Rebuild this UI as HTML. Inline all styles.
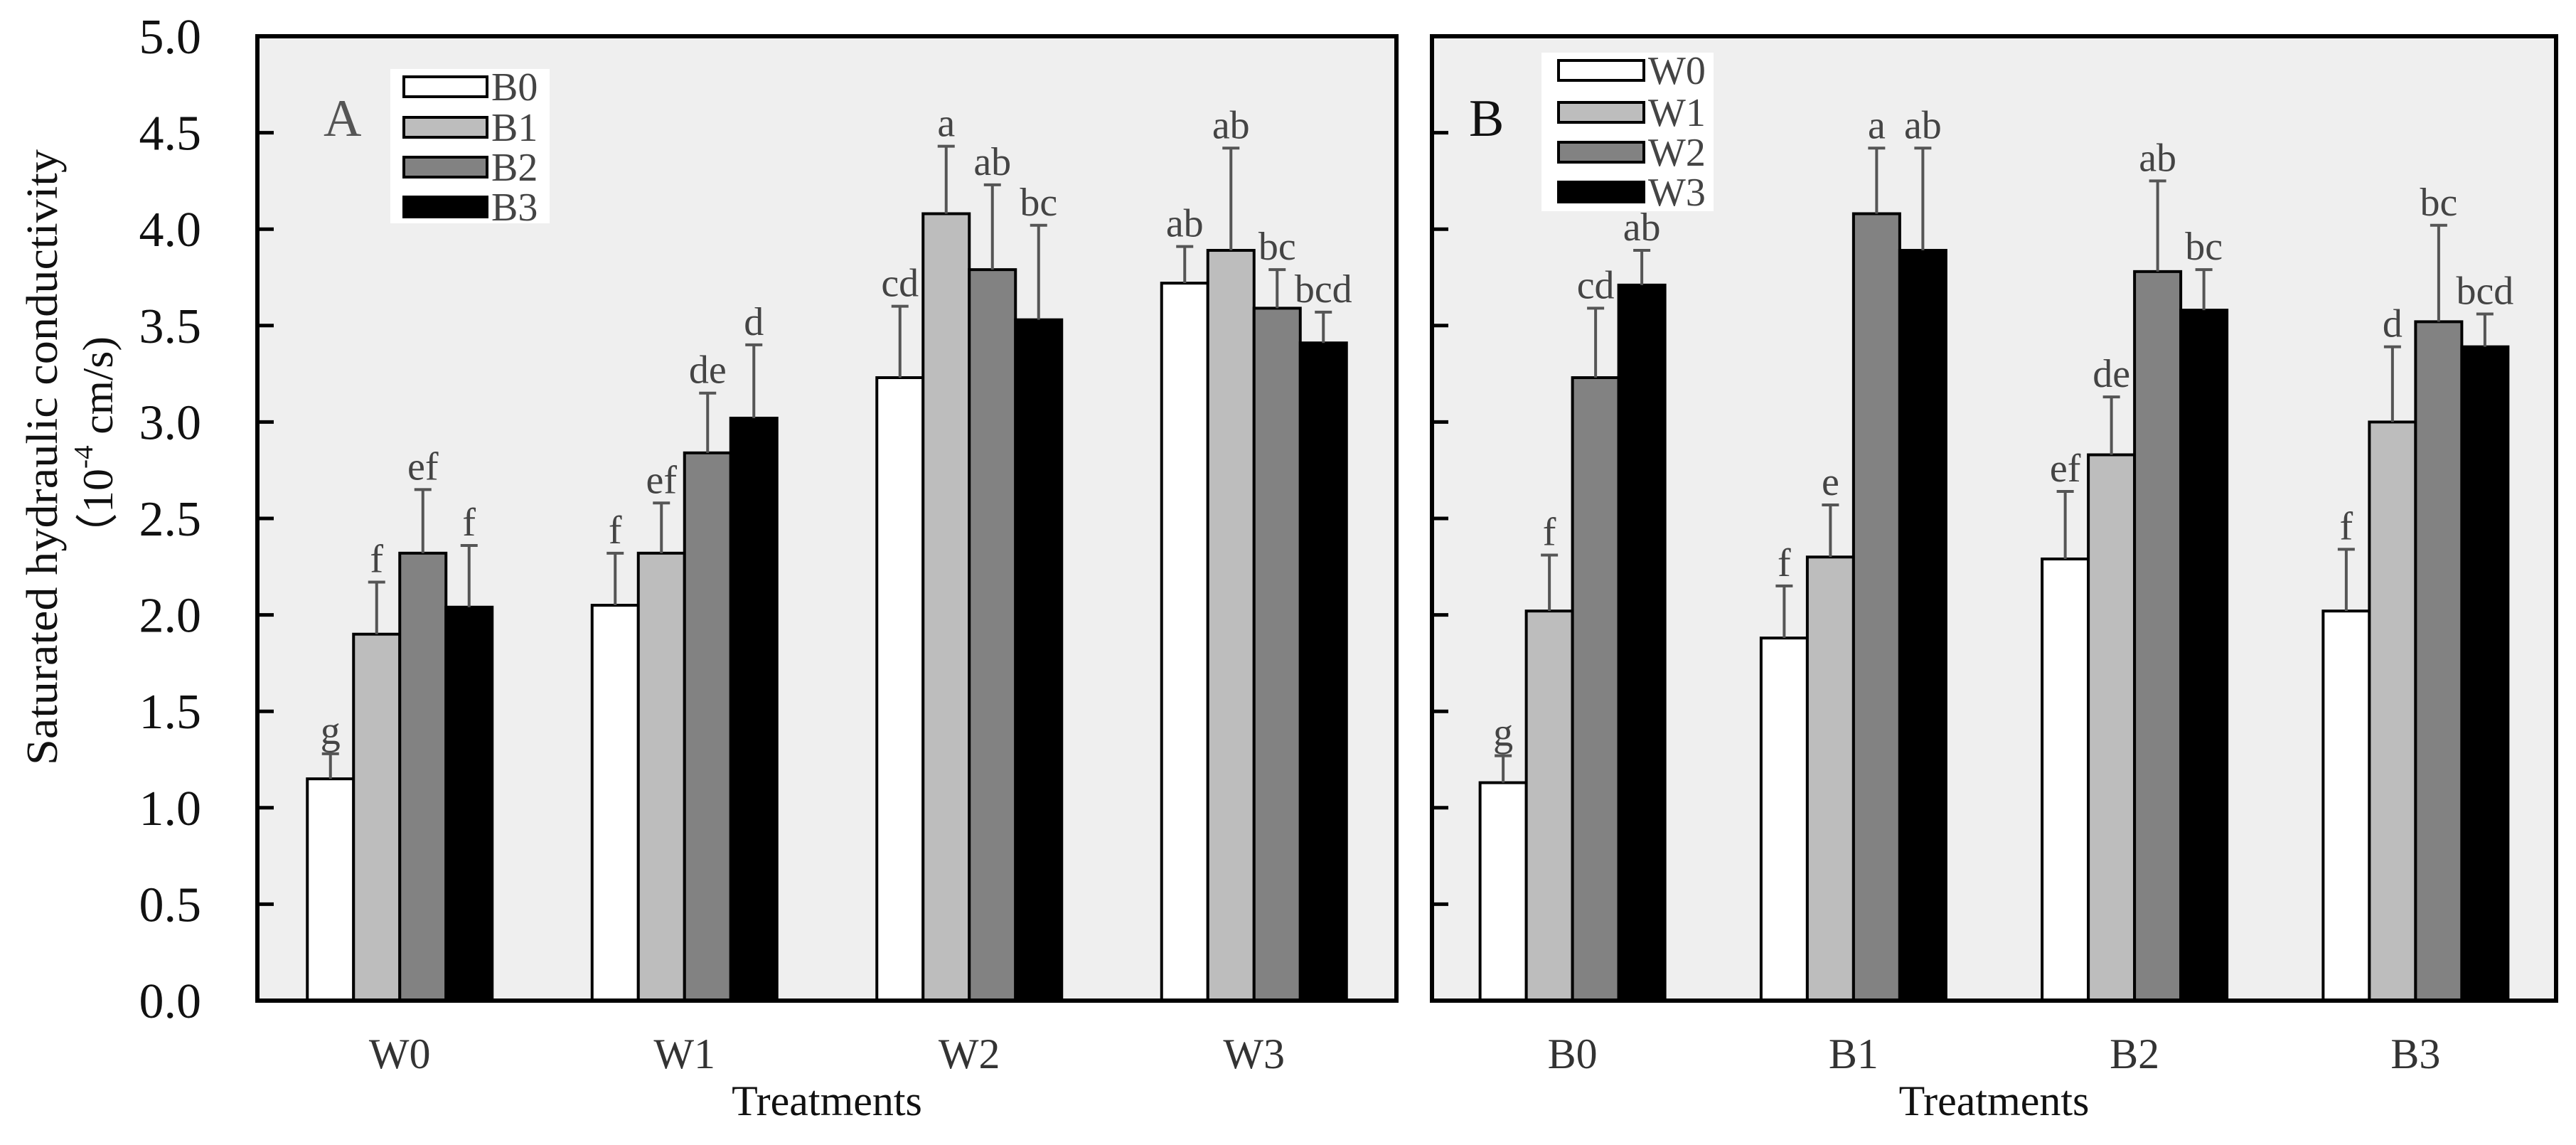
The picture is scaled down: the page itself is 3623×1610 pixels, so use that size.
<!DOCTYPE html>
<html><head><meta charset="utf-8"><style>
html,body{margin:0;padding:0;background:#fff;}
svg{display:block;font-family:"Liberation Serif","Times New Roman",serif;}
</style></head><body>
<svg id="chart" width="3623" height="1610" viewBox="0 0 3623 1610" xmlns="http://www.w3.org/2000/svg">
<g>
<text x="60" y="643" transform="rotate(-90 60 643)" text-anchor="middle" dominant-baseline="central" font-size="62" textLength="866" lengthAdjust="spacingAndGlyphs" fill="#111">Saturated hydraulic conductivity</text>
<text x="138" y="628" transform="rotate(-90 138 628)" text-anchor="middle" dominant-baseline="central" font-size="60" textLength="310" lengthAdjust="spacingAndGlyphs" fill="#111">（10<tspan font-size="38" dy="-20">-4</tspan><tspan dy="20"> cm/s)</tspan></text>
</g>
<g id="layer"></g>
</svg>
<script>
const yTicks = [0,0.5,1,1.5,2,2.5,3,3.5,4,4.5,5];
const yTickLabels = ["0.0","0.5","1.0","1.5","2.0","2.5","3.0","3.5","4.0","4.5","5.0"];
const catsA = ["W0","W1","W2","W3"];
const seriesA = ["B0","B1","B2","B3"];
const valsA = [[1.15,1.90,2.32,2.04],[2.05,2.32,2.84,3.02],[3.23,4.08,3.79,3.53],[3.72,3.89,3.59,3.41]];
const errA = [[1.28,2.17,2.65,2.36],[2.32,2.58,3.15,3.40],[3.60,4.43,4.23,4.02],[3.91,4.42,3.79,3.57]];
const letA = [["g","f","ef","f"],["f","ef","de","d"],["cd","a","ab","bc"],["ab","ab","bc","bcd"]];
const catsB = ["B0","B1","B2","B3"];
const seriesB = ["W0","W1","W2","W3"];
const valsB = [[1.13,2.02,3.23,3.71],[1.88,2.30,4.08,3.89],[2.29,2.83,3.78,3.58],[2.02,3.00,3.52,3.39]];
const errB = [[1.27,2.31,3.59,3.89],[2.15,2.57,4.42,4.42],[2.64,3.13,4.25,3.79],[2.34,3.39,4.02,3.56]];
const letB = [["g","f","cd","ab"],["f","e","a","ab"],["ef","de","ab","bc"],["f","d","bc","bcd"]];

const NS="http://www.w3.org/2000/svg";
const layer=document.getElementById('layer');
const fills=["#ffffff","#bdbdbd","#828282","#000000"];
const top0=51, base=1407;
function y(v){return base-(base-top0)*v/5;}
function mk(tag,attrs,parent){const e=document.createElementNS(NS,tag);for(const k in attrs)e.setAttribute(k,attrs[k]);(parent||layer).appendChild(e);return e;}

function panel(name,L,R,cats,series,vals,errs,lets,label,leg,showY){
  const g=mk('g',{});
  
  
  const bg=mk('rect',{x:L,y:top0,width:R-L,height:base-top0,fill:'#efefef'},g);
  
  
  const W=(R-L)/cats.length, bw=65;
  cats.forEach((c,i)=>{
    const cx=L+(i+0.5)*W;
    series.forEach((s,j)=>{
      const x=cx-2*bw+j*bw, v=vals[i][j];
      const r=mk('rect',{x:x,y:y(v),width:bw,height:base-y(v),fill:fills[j],stroke:'#000','stroke-width':4},g);
      
      
      const ex=x+bw/2, et=y(errs[i][j]);
      const eb=mk('path',{d:`M${ex},${y(v)}V${et}M${ex-12},${et}H${ex+12}`,stroke:'#555','stroke-width':4,fill:'none'},g);
      
      
      const t=mk('text',{x:ex,y:et-14,'text-anchor':'middle','font-size':56,fill:'#444'},g);
      t.textContent=lets[i][j];
      
      
    });
    const cl=mk('text',{x:cx,y:1502,'text-anchor':'middle','font-size':60,fill:'#333'},g);
    cl.textContent=c;
    
    
  });
  yTicks.forEach((t,k)=>{
    const tk=mk('line',{x1:L,x2:L+23,y1:y(t),y2:y(t),stroke:'#000','stroke-width':5},g);
    
    
    if(showY){
      const tl=mk('text',{x:283,y:y(t)+24,'text-anchor':'end','font-size':70,fill:'#111'},g);
      tl.textContent=yTickLabels[k];
      
      
    }
  });
  const fr=mk('rect',{x:L,y:top0,width:R-L,height:base-top0,fill:'none',stroke:'#000','stroke-width':6},g);
  
  
  const pl=mk('text',{x:leg.lx,y:191,'font-size':74,fill:label=='A'?'#555':'#111'},g);
  pl.textContent=label;
  
  
  const lg=mk('g',{},g);
  
  
  mk('rect',{x:leg.x,y:leg.y,width:leg.w,height:leg.h,fill:'#fff'},lg);
  series.forEach((s,j)=>{
    const ry=leg.rows[j];
    const sw=mk('rect',{x:leg.sx,y:ry-14,width:leg.sw,height:28,fill:fills[j],stroke:'#000','stroke-width':4},lg);
    
    
    const lt=mk('text',{x:leg.sx+leg.sw+6,y:ry+19,'font-size':56,fill:'#444'},lg);
    lt.textContent=s;
    
    
  });
  const xt=mk('text',{x:(L+R)/2,y:1568,'text-anchor':'middle','font-size':60,fill:'#111'},g);
  xt.textContent='Treatments';
  
  
}
panel('panel-a',362,1964,catsA,seriesA,valsA,errA,letA,'A',{lx:455,x:549,y:97,w:224,h:217,sx:568,sw:117,rows:[122,179,235,291]},true);
panel('panel-b',2014,3595,catsB,seriesB,valsB,errB,letB,'B',{lx:2066,x:2168,y:74,w:242,h:223,sx:2192,sw:120,rows:[99,158,214,270]},false);
</script>
</body></html>
